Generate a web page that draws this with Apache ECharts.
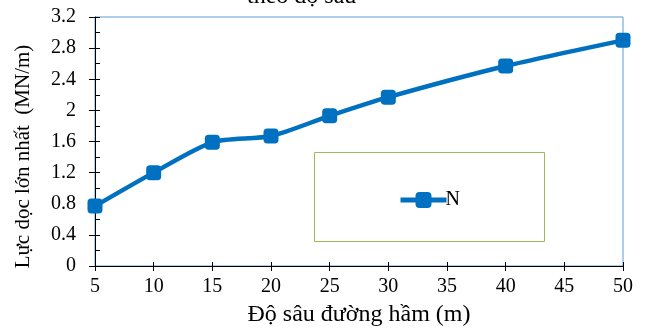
<!DOCTYPE html>
<html>
<head>
<meta charset="utf-8">
<script src="https://cdn.jsdelivr.net/npm/echarts@6/dist/echarts.min.js"></script>
<style>
  html, body { margin: 0; padding: 0; background: #fff; }
  #chart { width: 649px; height: 329px; }
</style>
</head>
<body>
<div id="chart"></div>
<script>
// độ sâu (m) và lực dọc lớn nhất (MN/m)
const depths = [5, 10, 15, 20, 25, 30, 40, 50]
const forceN = [0.77, 1.2, 1.59, 1.67, 1.93, 2.17, 2.57, 2.9]
const seriesName = 'N'
const titleText = 'theo độ sâu'
const xName = 'Độ sâu đường hầm (m)'
const yName = 'Lực dọc lớn nhất  (MN/m)'

const font = '"Liberation Serif", "Times New Roman", serif'
const blue = '#0070C0'

const chart = echarts.init(document.getElementById('chart'))

const option = {
  animation: false,
  textStyle: { fontFamily: font },
  grid: {
    left: 95,
    right: 26,
    top: 17,
    bottom: 63,
    outerBoundsMode: 'none',
    show: true,
    borderColor: '#5B9BD5',
    borderWidth: 1
  },
  graphic: [
    {
      // tiêu đề bị cắt ở mép trên
      type: 'text',
      left: 247,
      top: -15,
      style: { text: titleText, font: '24px ' + font, fill: '#000' }
    },
    {
      // khung chú thích
      type: 'rect',
      shape: { x: 314.5, y: 152.5, width: 230, height: 89 },
      style: { fill: '#fff', stroke: '#9BBB59', lineWidth: 1 },
      z: 5
    }
  ],
  legend: {
    data: [seriesName],
    left: 393,
    top: 185,
    itemWidth: 46,
    itemHeight: 20,
    itemGap: 0,
    z: 10,
    lineStyle: { width: 5 },
    textStyle: { fontFamily: font, fontSize: 20, color: '#000', padding: [0, 0, 0, -6] }
  },
  xAxis: [
    {
      type: 'value',
      min: 5,
      max: 50,
      interval: 5,
      name: xName,
      nameLocation: 'middle',
      nameGap: 37,
      nameTextStyle: { fontSize: 24, color: '#000', fontFamily: font },
      axisLine: { lineStyle: { color: '#000', width: 1 } },
      axisTick: { show: true, length: 5, lineStyle: { color: '#000' } },
      axisLabel: { fontSize: 20, color: '#000', margin: 11, fontFamily: font },
      splitLine: { show: false }
    },
    {
      type: 'value',
      min: 5,
      max: 50,
      interval: 5,
      position: 'bottom',
      axisLine: { show: false },
      axisTick: { show: true, inside: true, length: 4, lineStyle: { color: '#000' } },
      axisLabel: { show: false },
      splitLine: { show: false }
    }
  ],
  yAxis: [
    {
      type: 'value',
      min: 0,
      max: 3.2,
      interval: 0.4,
      name: yName,
      nameLocation: 'middle',
      nameGap: 61,
      nameTextStyle: { fontSize: 21, color: '#000', fontFamily: font, padding: [0, 30, 0, 0] },
      axisLine: { show: true, lineStyle: { color: '#000', width: 1 } },
      axisTick: { show: true, length: 6, lineStyle: { color: '#000' } },
      axisLabel: { fontSize: 20, color: '#000', margin: 19, fontFamily: font },
      splitLine: { show: false }
    },
    {
      type: 'value',
      min: 0,
      max: 3.2,
      interval: 0.4,
      position: 'left',
      axisLine: { show: false },
      axisTick: { show: true, inside: true, length: 5, lineStyle: { color: '#000' } },
      minorTick: { show: true, splitNumber: 2, length: 5, lineStyle: { color: '#000' } },
      axisLabel: { show: false },
      splitLine: { show: false }
    }
  ],
  series: [
    {
      name: seriesName,
      type: 'line',
      data: depths.map((d, i) => [d, forceN[i]]),
      symbol: 'roundRect',
      symbolSize: 15,
      smooth: 0.25,
      z: 3,
      itemStyle: { color: blue },
      lineStyle: { color: blue, width: 4.5 }
    }
  ]
}

chart.setOption(option)
</script>
</body>
</html>
